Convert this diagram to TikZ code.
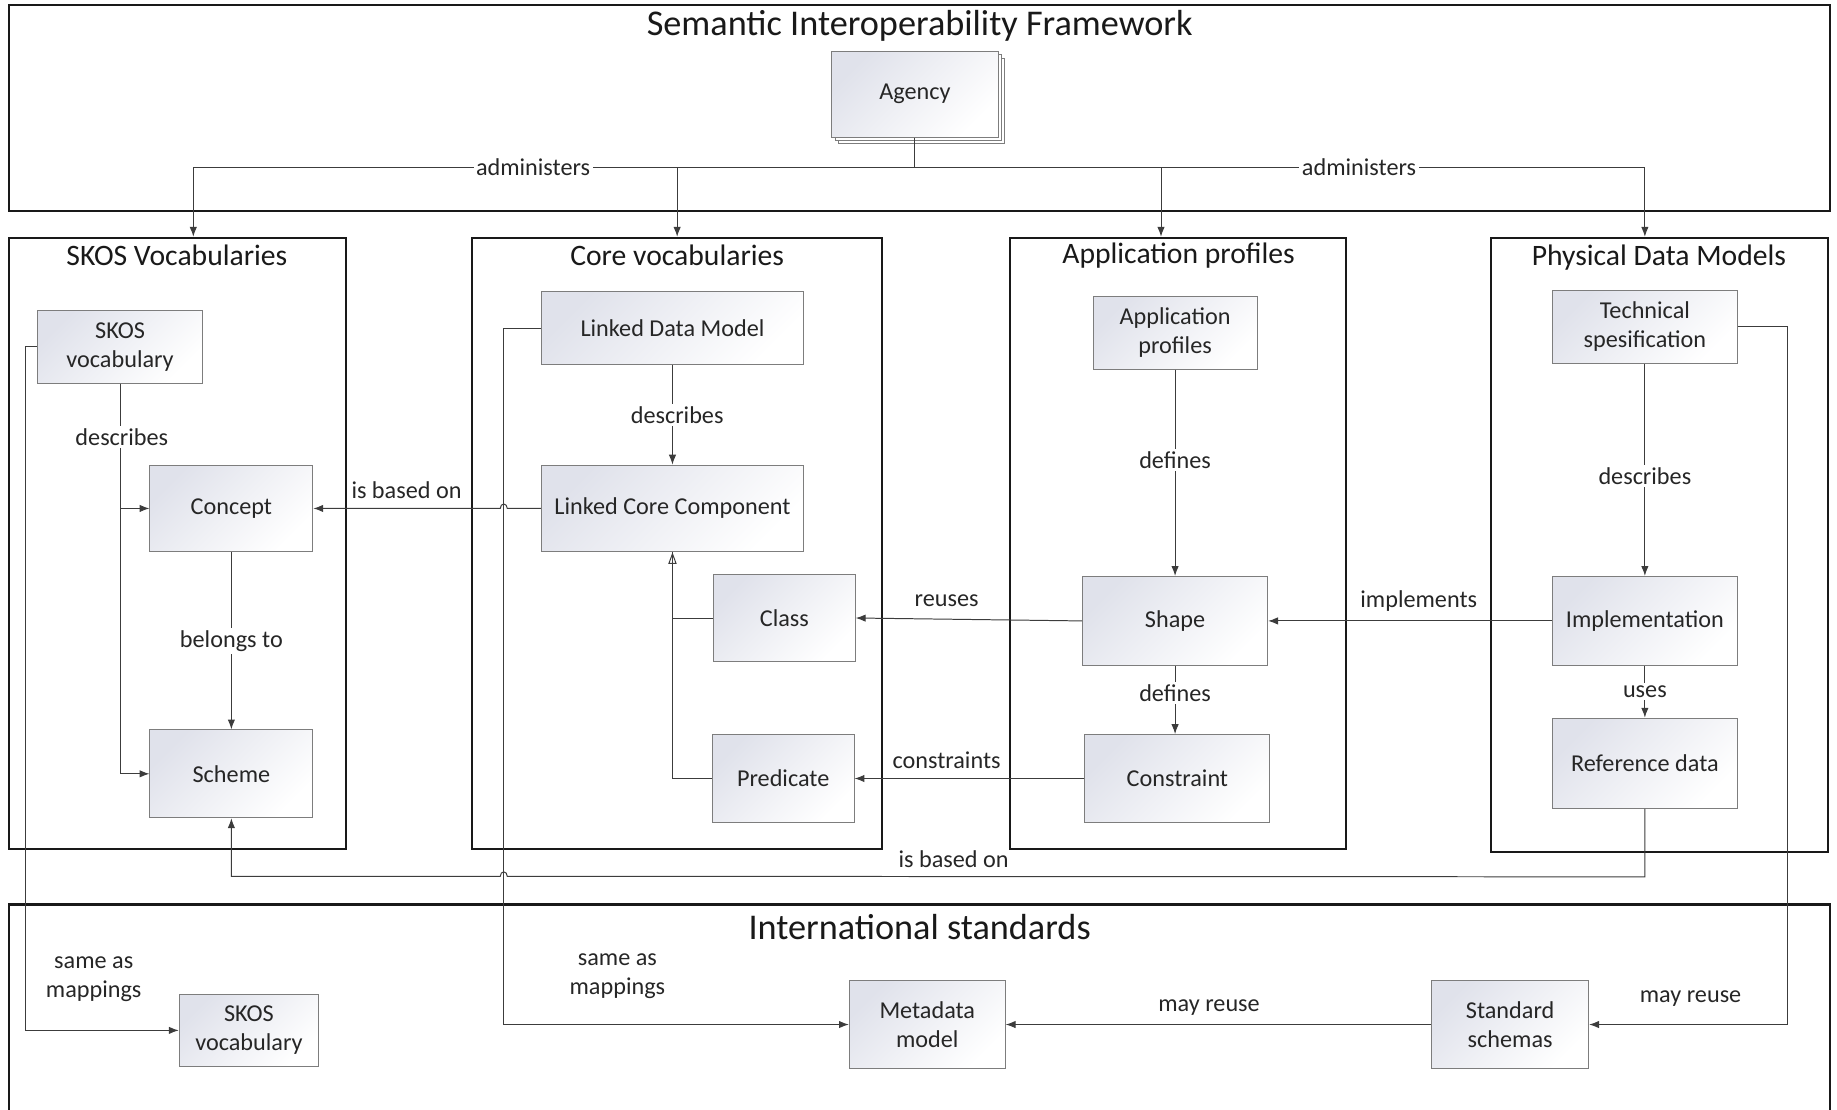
\documentclass[tikz,border=0pt]{standalone}
\usepackage{fontspec}
\setmainfont{Carlito}
\usetikzlibrary{arrows.meta,shadows,fit,calc}

\definecolor{boxline}{RGB}{125,125,125}
\definecolor{boxshade}{RGB}{224,226,235}
\definecolor{linkline}{RGB}{60,60,60}

\tikzset{
  box/.style={draw=boxline, line width=0.6pt, inner sep=0pt, align=center,
    left color=boxshade, right color=white, shading angle=45,
    font=\fontsize{14.7}{17.6}\selectfont, text=black!85},
  sz/.style 2 args={minimum width=#1*0.025cm, minimum height=#2*0.025cm},
  frame/.style={draw=black!90, line width=1.3pt, inner sep=0pt},
  link/.style={draw=linkline, line width=0.6pt},
  conn/.style={link, -{Latex[length=6pt,width=4.5pt]}},
  lbl/.style={font=\fontsize{14.7}{17.6}\selectfont, text=black!85, align=center, inner sep=1.5pt},
  onlbl/.style={lbl, fill=white},
  bigtitle/.style={font=\fontsize{22}{26}\selectfont, text=black!90},
  grptitle/.style={font=\fontsize{18}{21}\selectfont, text=black!90},
}

\begin{document}
\begin{tikzpicture}[x=0.025cm, y=-0.025cm]
\useasboundingbox (0,0) rectangle (1568,947);

% frames
\node[frame, fit={(8,4) (1562,180)}] (sif) {};
\node[bigtitle] at (785,22) {Semantic Interoperability Framework};
\node[frame, fit={(8,203) (295,725)}] (skosgrp) {};
\node[grptitle] at (151,218) {SKOS Vocabularies};
\node[frame, fit={(403,203) (753,725)}] (coregrp) {};
\node[grptitle] at (578,218) {Core vocabularies};
\node[frame, fit={(862,203) (1149,725)}] (appgrp) {};
\node[grptitle] at (1006,218) {Application profiles};
\node[frame, fit={(1273,203) (1560,727)}] (physgrp) {};
\node[grptitle] at (1416,220) {Physical Data Models};
\node[frame, fit={(8,772) (1562,990)}] (intstd) {};
\node[bigtitle] at (785,791) {International standards};

% boxes
\node[box, sz={142}{73}, double copy shadow={shadow xshift=2pt, shadow yshift=-2pt, draw=boxline, fill=white}]
  (agency) at (781,80.5) {Agency};

\node[box, sz={141}{62}] (skosvoc) at (102.5,296) {SKOS\\vocabulary};
\node[box, sz={139}{74}] (concept) at (197.5,434) {Concept};
\node[box, sz={139}{75}] (scheme) at (197.5,660.5) {Scheme};

\node[box, sz={224}{62}] (ldm) at (574,280) {Linked Data Model};
\node[box, sz={224}{74}] (lcc) at (574,434) {Linked Core Component};
\node[box, sz={121}{75}] (class) at (669.5,527.5) {Class};
\node[box, sz={121}{75}] (predicate) at (668.5,664.5) {Predicate};

\node[box, sz={140}{62}] (approf) at (1003,284) {Application\\profiles};
\node[box, sz={158}{76}] (shape) at (1003,530) {Shape};
\node[box, sz={158}{75}] (constraint) at (1005,664.5) {Constraint};

\node[box, sz={158}{62}] (techspec) at (1404,279) {Technical\\spesification};
\node[box, sz={158}{76}] (impl) at (1404,530) {Implementation};
\node[box, sz={158}{77}] (refdata) at (1404,651.5) {Reference data};

\node[box, sz={119}{61}] (skosstd) at (212.5,879.5) {SKOS\\vocabulary};
\node[box, sz={133}{75}] (metadata) at (791.5,874.5) {Metadata\\model};
\node[box, sz={134}{75}] (stdschemas) at (1289,874.5) {Standard\\schemas};

% administration
\coordinate (bus) at (agency.south |- 0,143);
\draw[link] (agency.south) -- (bus);
\draw[conn] (bus) -| ($(skosgrp.north)+(13.5,0)$);
\draw[conn] (bus) -| (coregrp.north);
\draw[conn] (bus) -| ($(appgrp.north)+(-14.5,0)$);
\draw[conn] (bus) -| ($(physgrp.north)+(-12.5,0)$);
\node[onlbl] at (455,143) {administers};
\node[onlbl] at (1160,143) {administers};

% SKOS
\draw[conn] (skosvoc.south) |- (concept.west);
\draw[conn] (skosvoc.south) |- (scheme.west);
\node[onlbl] at (104,373) {describes};
\draw[conn] (concept) -- (scheme) node[onlbl, midway] {belongs to};
\draw[conn] (skosvoc.west) -- ++(-10,0) |- (skosstd.west);
\node[lbl] at (80,836) {same as\\mappings};

% core
\draw[conn] (ldm) -- (lcc) node[onlbl, midway, xshift=0.1cm] {describes};
\draw[link, -{Triangle[open,length=7pt,width=5pt]}] (class.west) -| (lcc.south);
\draw[link] (predicate.west) -| (lcc.south);
\draw[conn] (lcc.west) -- (433,434) .. controls (433,429) and (427,429) .. (427,434) -- (concept.east);
\node[lbl] at (347,418) {is based on};
\draw[conn] (ldm.west) -- ++(-32,0) |- (metadata.west);
\node[lbl] at (527,833) {same as\\mappings};

% application profiles
\draw[conn] (approf) -- (shape) node[onlbl, pos=0.44] {defines};
\draw[conn] (shape.south) -- (shape.south |- constraint.north) node[onlbl, pos=0.4] {defines};
\draw[conn] (shape.west) -- (class.east);
\node[lbl] at (808,513) {reuses};
\draw[conn] (constraint.west) -- (predicate.east);
\node[lbl] at (808,649) {constraints};

% physical models
\draw[conn] (techspec) -- (impl) node[onlbl, pos=0.53] {describes};
\draw[conn] (impl) -- (refdata) node[onlbl, midway] {uses};
\draw[conn] (impl.west) -- (shape.east);
\node[lbl] at (1211,513) {implements};
\draw[conn] (refdata.south) -- ++(0,58) -- (433,748) .. controls (433,743) and (427,743) .. (427,748) -| (scheme.south);
\node[lbl] at (814,733) {is based on};
\draw[conn] (techspec.east) -- ++(42,0) |- (stdschemas.east);
\node[lbl] at (1443,852) {may reuse};

% standards
\draw[conn] (stdschemas) -- (metadata);
\node[lbl] at (1032,860) {may reuse};
\end{tikzpicture}
\end{document}
